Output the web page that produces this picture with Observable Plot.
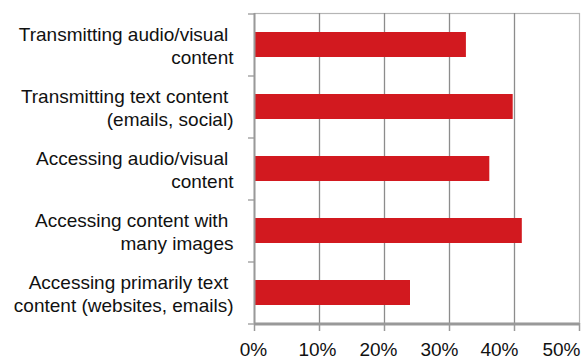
<!DOCTYPE html>
<html>
<head>
<meta charset="utf-8">
<script src="https://cdn.jsdelivr.net/npm/d3@7"></script>
<script src="https://cdn.jsdelivr.net/npm/@observablehq/plot@0.6"></script>
<style>
  html, body { margin: 0; padding: 0; background: #fff; }
</style>
</head>
<body>
<div id="chart"></div>
<script>
const categories = [
  "Transmitting audio/visual\u00a0\ncontent",
  "Transmitting text content\u00a0\n(emails, social)",
  "Accessing audio/visual\u00a0\ncontent",
  "Accessing content with\u00a0\nmany images",
  "Accessing primarily text\u00a0\ncontent (websites, emails)"
];
const values = [32.6, 39.8, 36.2, 41.2, 24.0];
const xTicks = [0, 10, 20, 30, 40, 50];
const gridTicks = [10, 20, 30, 40];

const data = categories.map((c, i) => ({category: c, value: values[i]}));

const W = 585, H = 360, mTop = 13, mBottom = 37, mLeft = 254, mRight = 6;
const halfStep = (H - mTop - mBottom) / categories.length / 2;
const red = "#d2191f";
const axisGray = "#999";
// horizontal nudges of the x tick labels, as laid out in the reference
const labelNudge = [-1, -2, -6, -10, -15, -18];

const xLabelMarks = xTicks.map((t, i) =>
  Plot.axisX([t], {tickSize: 0, tickPadding: 19, tickFormat: d => d + "%", fontSize: 19,
    dx: labelNudge[i], fill: "#111", label: null})
);

const chart = Plot.plot({
  width: W,
  height: H,
  marginTop: mTop,
  marginBottom: mBottom,
  marginLeft: mLeft,
  marginRight: mRight,
  style: {fontFamily: "'Liberation Sans', Arial, Helvetica, sans-serif", fontSize: "19px", color: "#111", background: "#fff"},
  x: {domain: [0, 50], label: null},
  y: {domain: categories, paddingInner: 0.6, paddingOuter: 0.3, label: null},
  marks: [
    Plot.frame({stroke: "#b5b5b5", strokeWidth: 1.2}),
    Plot.gridX(gridTicks, {stroke: "#8c8c8c", strokeOpacity: 1, strokeWidth: 1.3}),
    Plot.barX(data, {x: "value", y: "category", fill: red}),
    Plot.ruleX([0], {stroke: axisGray, strokeWidth: 2}),
    Plot.ruleY(categories.slice(-1), {dy: halfStep, stroke: axisGray, strokeWidth: 3}),
    // y tick marks at band boundaries
    Plot.axisY({tickSize: 6, text: null, dy: -halfStep, stroke: axisGray, strokeWidth: 1.3, label: null}),
    Plot.axisY(categories.slice(-1), {tickSize: 6, text: null, dy: halfStep, stroke: axisGray, strokeWidth: 1.3, label: null}),
    // y labels
    Plot.axisY({tickSize: 0, tickPadding: 21, fontSize: 19, lineHeight: 1.2, textAnchor: "end", fill: "#111", label: null}),
    // x tick marks
    Plot.axisX(xTicks, {tickSize: 8, text: null, stroke: axisGray, strokeWidth: 1.5, label: null}),
    ...xLabelMarks
  ]
});
document.getElementById("chart").appendChild(chart);
</script>
</body>
</html>
